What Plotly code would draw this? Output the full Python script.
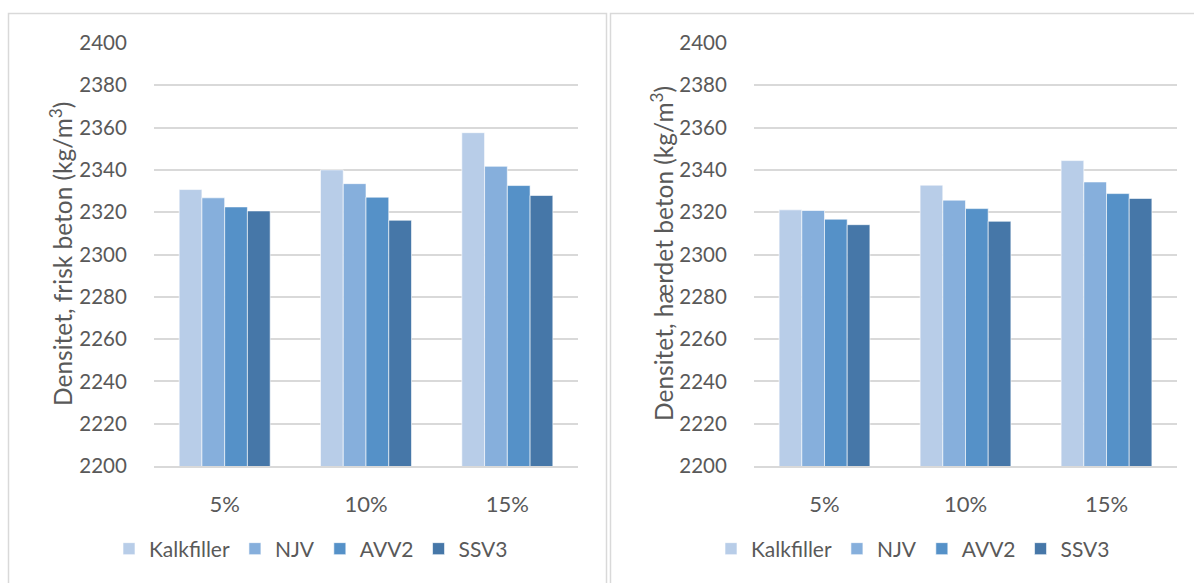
import plotly.graph_objects as go

categories = ["5%", "10%", "15%"]
series_names = ["Kalkfiller", "NJV", "AVV2", "SSV3"]
colors = ["#B8CDE8", "#86AFDC", "#5591C8", "#4677A8"]

fresh_values = {
    "Kalkfiller": [2330.7, 2340.0, 2357.6],
    "NJV": [2326.8, 2333.5, 2341.7],
    "AVV2": [2322.5, 2327.1, 2332.6],
    "SSV3": [2320.6, 2316.2, 2327.9],
}
hardened_values = {
    "Kalkfiller": [2321.1, 2332.8, 2344.4],
    "NJV": [2320.8, 2325.7, 2334.3],
    "AVV2": [2316.7, 2321.7, 2328.8],
    "SSV3": [2314.1, 2315.7, 2326.5],
}
y_ticks = [2200, 2220, 2240, 2260, 2280, 2300, 2320, 2340, 2360, 2380, 2400]
y_title_left = "Densitet, frisk beton (kg/m<sup>3</sup>)"
y_title_right = "Densitet, hærdet beton (kg/m<sup>3</sup>)"

W, H = 1194, 583
FONT = "Lato"
TXT = "#595959"
GRID = "#D9D9D9"

def px(x):
    return x / W

def py(y):
    return 1 - y / H

fig = go.Figure()
for name, col in zip(series_names, colors):
    fig.add_trace(go.Bar(x=categories, y=fresh_values[name], name=name,
                         marker=dict(color=col, line=dict(color="rgba(255,255,255,0.6)", width=1)),
                         xaxis="x", yaxis="y", legend="legend"))
for name, col in zip(series_names, colors):
    fig.add_trace(go.Bar(x=categories, y=hardened_values[name], name=name,
                         marker=dict(color=col, line=dict(color="rgba(255,255,255,0.6)", width=1)),
                         xaxis="x2", yaxis="y2", legend="legend2"))

yax = dict(range=[2200, 2400], tickvals=y_ticks, showgrid=True, gridcolor=GRID, gridwidth=1.5,
           zeroline=False, showline=False, ticks="outside", ticklen=22, tickcolor="rgba(0,0,0,0)",
           tickfont=dict(family=FONT, size=20.5, color=TXT), fixedrange=True, automargin=False)
xax = dict(showline=True, linecolor=GRID, linewidth=1.5, ticks="outside", ticklen=18,
           tickcolor="rgba(0,0,0,0)", tickfont=dict(family=FONT, size=22, color=TXT), automargin=False)

leg = dict(orientation="h", xanchor="center", yanchor="middle", font=dict(family=FONT, size=21, color=TXT),
           itemwidth=30, bgcolor="rgba(0,0,0,0)", traceorder="normal")

fig.update_layout(
    width=W, height=H, margin=dict(l=0, r=0, t=0, b=0, autoexpand=False),
    paper_bgcolor="white", plot_bgcolor="white",
    barmode="group", bargap=0.356, bargroupgap=0,
    xaxis=dict(domain=[px(154), px(578)], anchor="y", **xax),
    yaxis=dict(domain=[py(466), py(43)], anchor="x", **yax),
    xaxis2=dict(domain=[px(754), px(1177)], anchor="y2", **xax),
    yaxis2=dict(domain=[py(466), py(43)], anchor="x2", **yax),
    legend=dict(x=px(311), y=py(549), **leg),
    legend2=dict(x=px(913), y=py(549), **leg),
    showlegend=True,
)

fig.add_annotation(text=y_title_left, textangle=-90, xref="paper", yref="paper", xanchor="center", yanchor="middle",
                   x=px(61), y=py(254), showarrow=False, font=dict(family=FONT, size=24.5, color=TXT))
fig.add_annotation(text=y_title_right, textangle=-90, xref="paper", yref="paper", xanchor="center", yanchor="middle",
                   x=px(662), y=py(254), showarrow=False, font=dict(family=FONT, size=24.5, color=TXT))

fig.add_shape(type="rect", xref="paper", yref="paper", x0=px(8.5), x1=px(606.5), y0=py(600), y1=py(13.5),
              line=dict(color=GRID, width=1.5), layer="below")
fig.add_shape(type="rect", xref="paper", yref="paper", x0=px(610.5), x1=px(1220), y0=py(600), y1=py(13.5),
              line=dict(color=GRID, width=1.5), layer="below")

fig.write_html("out.html")
